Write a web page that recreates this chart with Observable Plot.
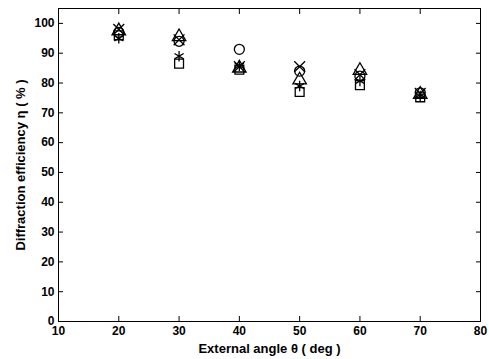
<!DOCTYPE html>
<html>
<head>
<meta charset="utf-8">
<script src="https://cdn.jsdelivr.net/npm/d3@7"></script>
<script src="https://cdn.jsdelivr.net/npm/@observablehq/plot@0.6"></script>
<style>
  html, body { margin: 0; padding: 0; background: #fff; }
  #chart svg { font-family: "Liberation Sans", Arial, sans-serif; }
</style>
</head>
<body>
<div id="chart"></div>
<script>
const angles = [20, 30, 40, 50, 60, 70];
const circleVals   = [97, 94, 91.3, 84, 82.3, 76.7];
const triangleVals = [97.5, 95.5, 85, 81, 84.2, 76.2];
const timesVals    = [98, 94.5, 85.5, 85.5, 82.8, 76.5];
const squareVals   = [96, 86.5, 84.5, 77, 79.3, 75.2];
const asteriskVals = [95, 89, 85.8, 79, 80.7, 75.6];
const xTicks = [10, 20, 30, 40, 50, 60, 70, 80];
const yTicks = [0, 10, 20, 30, 40, 50, 60, 70, 80, 90, 100];

const seriesList = [
  {symbol: "circle", vals: circleVals},
  {symbol: "triangle", vals: triangleVals},
  {symbol: "times", vals: timesVals},
  {symbol: "square", vals: squareVals},
  {symbol: "asterisk", vals: asteriskVals}
];
const data = seriesList.flatMap(s => angles.map((a, i) => ({x: a, y: s.vals[i], symbol: s.symbol})));

const chart = Plot.plot({
  width: 489,
  height: 359,
  marginLeft: 58,
  marginRight: 9,
  marginTop: 8,
  marginBottom: 38,
  style: {fontSize: "12px", fontWeight: "bold", color: "#000", background: "#fff"},
  x: {domain: [10, 80], label: null},
  y: {domain: [0, 105], label: null},
  symbol: {domain: ["circle", "triangle", "times", "square", "asterisk"], range: ["circle", "triangle", "times", "square", "asterisk"]},
  marks: [
    Plot.frame({stroke: "#000", strokeWidth: 1}),
    Plot.axisX({ticks: xTicks, tickSize: -5, tickPadding: 10, tickFormat: d => d, fontSize: 12, fontWeight: "bold"}),
    Plot.axisX({anchor: "top", ticks: xTicks, tickSize: -5, tickFormat: () => "", label: null}),
    Plot.axisY({ticks: yTicks, tickSize: -5, tickPadding: 9, tickFormat: d => d, fontSize: 12, fontWeight: "bold"}),
    Plot.axisY({anchor: "right", ticks: yTicks, tickSize: -5, tickFormat: () => "", label: null}),
    Plot.dot(data, {x: "x", y: "y", symbol: "symbol", r: 5, stroke: "#000", strokeWidth: 1.3, fill: "none"}),
    Plot.text(["External angle θ ( deg )"], {frameAnchor: "bottom", dy: 31, fontSize: 13, fontWeight: "bold"}),
    Plot.text(["Diffraction efficiency η ( % )"], {frameAnchor: "left", textAnchor: "middle", dx: -38, rotate: -90, fontSize: 13, fontWeight: "bold"})
  ]
});
document.getElementById("chart").appendChild(chart);
</script>
</body>
</html>
